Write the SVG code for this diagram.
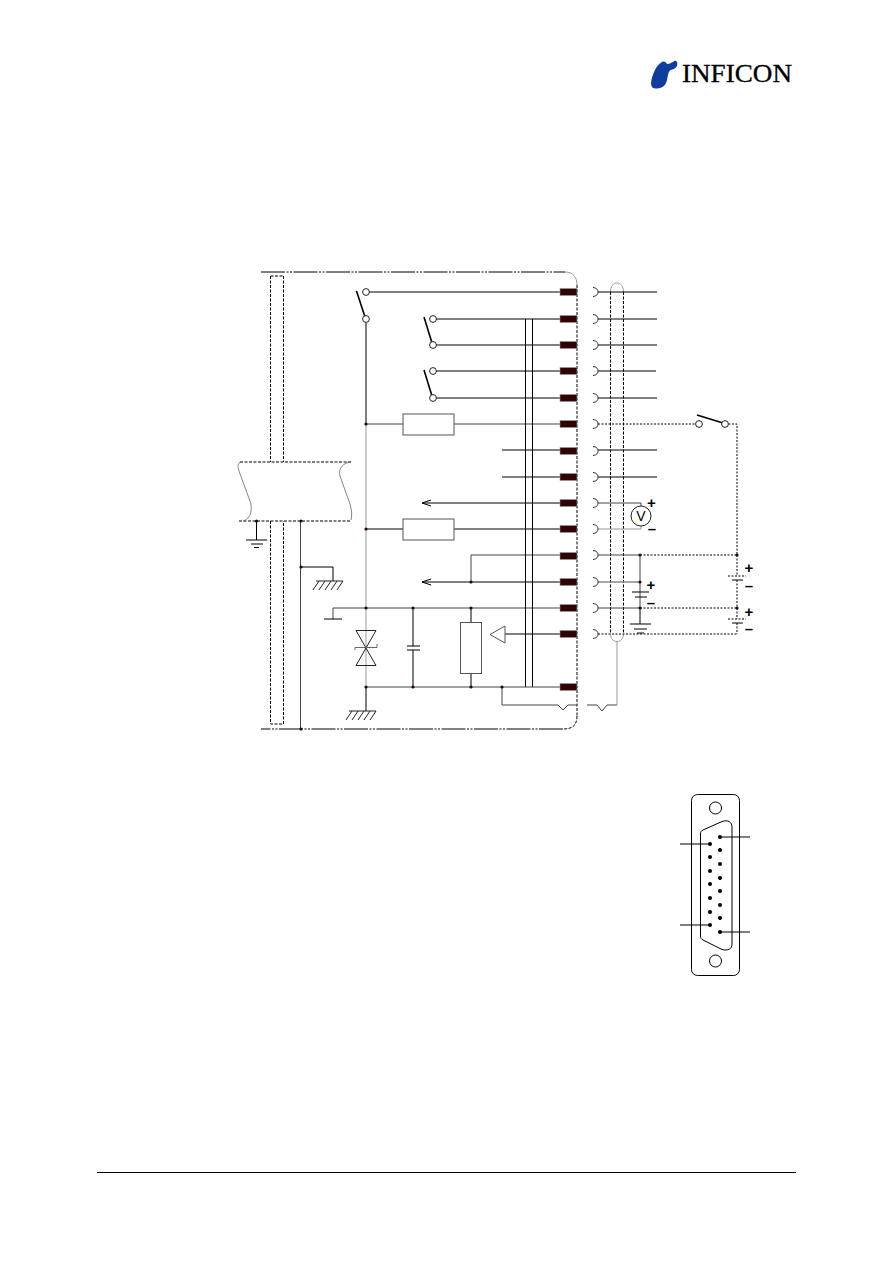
<svg xmlns="http://www.w3.org/2000/svg" xmlns:xlink="http://www.w3.org/1999/xlink" width="894" height="1263" viewBox="0 0 894 1263">
<style>
.w{fill:none;stroke:#000;stroke-width:1}
.g{fill:none;stroke:#444;stroke-width:1}
.lg{fill:none;stroke:#999;stroke-width:1}
.d{fill:none;stroke:#000;stroke-width:1;stroke-dasharray:3 1.5}
.dd{fill:none;stroke:#000;stroke-width:1;stroke-dasharray:2 1.5}
.dc{fill:none;stroke:#000;stroke-width:1;stroke-dasharray:24 1.5 2 1.5 2 1.5}
.b{fill:#fff;stroke:#555;stroke-width:1}
.o{fill:#fff;stroke:#222;stroke-width:1}
.l{fill:none;stroke:#000;stroke-width:1.6}
.t{font-family:"Liberation Sans",Arial,sans-serif;fill:#000}
</style>
<defs>
<circle id="dot" r="1.6" fill="#2a0505"/>
<rect id="pin" x="560" y="-3.5" width="17" height="7" fill="#300404" stroke="#999" stroke-width="0.6"/>
<path id="sock" d="M593,-4.5 C597,-4 598,-2 598,0 C598,2 597,4 593,4.5" fill="none" stroke="#222" stroke-width="1"/>
<path id="hatch" d="M0,0H27M3,0L-3,9M9,0L3,9M15,0L9,9M21,0L15,9M27,0L21,9" fill="none" stroke="#222" stroke-width="1"/>
</defs>
<rect width="894" height="1263" fill="#fff"/>

<g id="logo">
<path d="M651,83C652,75 656,65 662,62C664,61 666,62 667,64C670,64 673,62 675,60.500C677,61 678,63 677,66C676,68 674,69 671,70C668,71 668,76 667,80C666,85 663,88 657,88.500C653,89 651,87 651,83Z" fill="#103c9c"/>
<text x="682" y="82" class="t" style="font-family:'Liberation Serif',serif" font-size="25" stroke="#000" stroke-width="0.3" textLength="110" lengthAdjust="spacingAndGlyphs">INFICON</text>
</g>

<g id="connectors">
<path class="dc" d="M261,272H565"/>
<path class="lg" d="M565,272 C573,272 577,277 577,285"/>
<path class="d" d="M577,285V716"/>
<path class="d" d="M577,716 C577,725 573,729 563,729"/>
<path class="dc" d="M563,729H261"/>
<path class="d" d="M270.500,276H283.500M270.500,276V462M283.500,276V462"/>
<path class="d" d="M270.500,521V724H283.500V521"/>
<path class="d" d="M240,462H351M239,521H351"/>
<path d="M240,462C237,465 238,468 239,471L251,504C252,512 250,519 243,521" fill="none" stroke="#666" stroke-width=".8"/>
<path d="M351,462C343,463 338,468 340,476L350,504C352,511 352,516 351,520" fill="none" stroke="#666" stroke-width=".8"/>

<path class="w" d="M366,292H560M433,319H560M433,345H560M433,371H560M433,398H560"/>
<path class="w" d="M366,319V424"/>
<path d="M366,424V687" fill="none" stroke="#aaa" stroke-width="1.2"/>
<path class="g" d="M366,424H403M454,424H560"/>
<path class="w" d="M502,450H560M502,477H560"/>
<path class="w" d="M422,503H560M422,503L431,500M422,503L431,506"/>
<path class="w" d="M366,529H403M454,529H560"/>
<path class="g" d="M560,555H471V582"/>
<path class="w" d="M422,582H560M422,582L431,579M422,582L431,585"/>
<path class="g" d="M333,619V608H560"/>
<path class="w" d="M324,619H342"/>
<path class="w" d="M525.500,319V687M532.500,319V687"/>
<path class="w" d="M505,634H560"/>
<path class="g" d="M366,687H560"/>
<path class="w" d="M366,687V711M413,608V646M413,650V687M471,608V622M471,673V687"/>
<path class="w" d="M407,646H420M407,650H420"/>
<path class="g" d="M502,687V705H558L563,710L568,705H577M587,705H597L602,711L607,705H617"/>
<path class="lg" d="M617,705V641"/>
<path class="g" d="M300.500,521V729"/>
<path class="w" d="M301,567H333V581M256.500,521V540"/>
<path class="w" d="M246,540H267M251,544H263"/>
<path class="w" d="M254,547.500H259"/>

<path class="d" d="M610.500,292V634M623.500,292V634"/>
<path class="lg" d="M610.500,292C610.500,280 623.500,280 623.500,292"/>
<path class="lg" d="M610.500,634C610.500,644 623.500,644 623.500,634"/>

<path class="w" d="M598,292H657M598,319H657M598,345H657M598,371H656M598,398H657M598,450H657M598,477H657"/>
<path class="dd" d="M598,424H698M725,424H737V555"/>
<path class="g" d="M598,503H641V506"/>
<path class="lg" d="M598,529H641V526"/>
<path class="g" d="M598,555H640V608M598,608H640"/>
<path d="M598,582H640" fill="none" stroke="#888" stroke-width="1.3"/>
<path class="dd" d="M640,555H737M640,608H737M598,634H737"/>
<path class="w" d="M640,608V624"/>
<path class="w" d="M630,624H651M634,629H647M637,633H644"/>
<path class="dd" d="M737,555V576M737,580V619M737,623V634"/>
<path class="dd" d="M728,576H746M728,619H746"/>
<path class="w" d="M732,580H743M732,623H743"/>
<path class="w" d="M632,592H649M635,597H647"/>
</g>

<g id="pins">
<use href="#pin" y="292"/><use href="#pin" y="319"/><use href="#pin" y="345"/><use href="#pin" y="371"/><use href="#pin" y="398"/><use href="#pin" y="424"/><use href="#pin" y="451"/><use href="#pin" y="477"/><use href="#pin" y="503"/><use href="#pin" y="529"/><use href="#pin" y="556"/><use href="#pin" y="582"/><use href="#pin" y="608"/><use href="#pin" y="634"/><use href="#pin" y="687"/>
</g>
<g id="sockets">
<use href="#sock" y="292"/><use href="#sock" y="319"/><use href="#sock" y="345"/><use href="#sock" y="371"/><use href="#sock" y="398"/><use href="#sock" y="424"/><use href="#sock" y="451"/><use href="#sock" y="477"/><use href="#sock" y="503"/><use href="#sock" y="529"/><use href="#sock" y="555"/><use href="#sock" y="582"/><use href="#sock" y="608"/><use href="#sock" y="634"/>
</g>

<g id="switch1"><path class="l" d="M356.500,291L365,317"/><circle class="o" cx="366" cy="292" r="3.400"/><circle class="o" cx="366" cy="319" r="3.400"/></g>
<g id="switch2"><path class="l" d="M424,317L432,343"/><circle class="o" cx="433" cy="319" r="3.400"/><circle class="o" cx="433" cy="345" r="3.400"/></g>
<g id="switch3"><path class="l" d="M424,370L432,396"/><circle class="o" cx="433" cy="371" r="3.400"/><circle class="o" cx="433" cy="398" r="3.400"/></g>
<g id="switch4"><path class="l" d="M697,415L723,423"/><circle class="o" cx="699" cy="424" r="3.400"/><circle class="o" cx="725" cy="424" r="3.400"/></g>

<g id="resistor1"><rect class="b" x="403" y="414" width="51" height="21"/></g>
<g id="resistor2"><rect class="b" x="403" y="519" width="51" height="21"/></g>
<g id="resistor3"><rect class="b" x="460.500" y="622.500" width="21" height="51"/></g>
<g id="amplifier"><path class="b" d="M490,634.500L505,626V643Z"/></g>
<g id="zener">
<path d="M356,630.500H376L356,665.500H376Z" fill="none" stroke="#222" stroke-width="1"/>
<path d="M355,650V647.500H377V644" fill="none" stroke="#666" stroke-width="1"/>
</g>
<g id="ground-chassis1"><use href="#hatch" x="316" y="581"/></g>
<g id="ground-chassis2"><use href="#hatch" x="349" y="711"/></g>

<g id="voltmeter">
<circle class="o" cx="641" cy="516" r="10"/>
<text x="641" y="521" class="t" font-size="14" text-anchor="middle">V</text>
</g>
<g id="polarity" class="t" font-weight="bold">
<text x="651.500" y="508" font-size="15" text-anchor="middle" font-weight="bold">+</text>
<text x="652" y="534" font-size="15" text-anchor="middle" font-weight="bold">–</text>
<text x="651" y="590" font-size="15" text-anchor="middle" font-weight="bold">+</text>
<text x="651" y="608" font-size="15" text-anchor="middle">–</text>
<text x="749" y="573" font-size="15" text-anchor="middle">+</text>
<text x="749" y="591" font-size="15" text-anchor="middle">–</text>
<text x="749" y="617" font-size="15" text-anchor="middle">+</text>
<text x="749" y="634" font-size="15" text-anchor="middle">–</text>
</g>

<g id="junctions">
<use href="#dot" x="366" y="424"/><use href="#dot" x="366" y="529"/><use href="#dot" x="366" y="608"/><use href="#dot" x="366" y="687"/>
<use href="#dot" x="413" y="608"/><use href="#dot" x="413" y="687"/><use href="#dot" x="471" y="608"/><use href="#dot" x="471" y="687"/><use href="#dot" x="471" y="582"/><use href="#dot" x="502" y="687"/>
<use href="#dot" x="301" y="521"/><use href="#dot" x="301" y="567"/><use href="#dot" x="301" y="729"/><use href="#dot" x="256.500" y="521"/>
<use href="#dot" x="640" y="555"/><use href="#dot" x="640" y="582"/><use href="#dot" x="640" y="608"/><use href="#dot" x="737" y="555"/><use href="#dot" x="737" y="608"/>
</g>

<g id="dsub">
<rect x="691.500" y="794.500" width="48" height="181" rx="6" fill="#fff" stroke="#000" stroke-width="1"/>
<circle cx="715.500" cy="808" r="6" fill="#fff" stroke="#000"/>
<circle cx="715.500" cy="961" r="6" fill="#fff" stroke="#000"/>
<path d="M700.500,834C700.500,832 701,831 703,830L722,821.500C728,819.500 732,822 732,827V944C732,949 728,951 722,949.500L703,940C701,939 700.500,938 700.500,936Z" fill="#fff" stroke="#000"/>
<path class="w" d="M680,844H710M680,925H710M720,837H750M720,932H750"/>
<g fill="#000">
<circle cx="710" cy="844" r="2"/><circle cx="710" cy="857" r="2"/><circle cx="710" cy="871" r="2"/><circle cx="710" cy="884" r="2"/><circle cx="710" cy="898" r="2"/><circle cx="710" cy="912" r="2"/><circle cx="710" cy="925" r="2"/>
<circle cx="720" cy="837" r="2"/><circle cx="720" cy="850" r="2"/><circle cx="720" cy="864" r="2"/><circle cx="720" cy="878" r="2"/><circle cx="720" cy="891" r="2"/><circle cx="720" cy="905" r="2"/><circle cx="720" cy="918" r="2"/><circle cx="720" cy="932" r="2"/>
</g>
</g>
<g id="footer-rule"><path d="M97,1172.500H796" stroke="#000" stroke-width="1" fill="none"/></g>
</svg>
